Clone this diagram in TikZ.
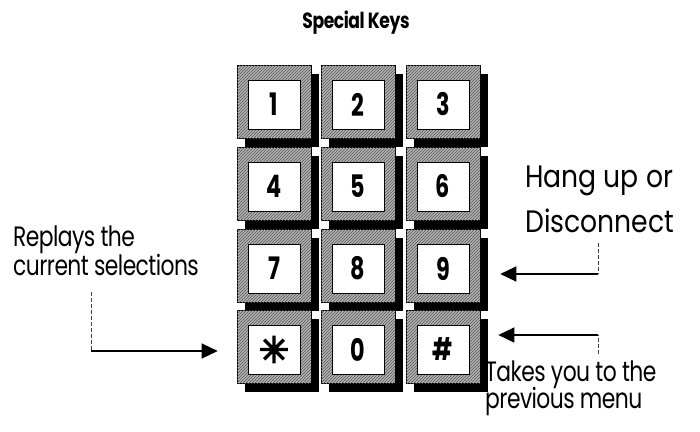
\documentclass[tikz,border=0pt]{standalone}
\usepackage{fontspec}
\setmainfont{Poppins}
\newfontfamily\labelfont[FakeStretch=0.78, LetterSpace=-2]{Poppins}
\newfontfamily\bigfont[FakeStretch=0.86]{Poppins}
\newfontfamily\keyfont[FakeStretch=0.72]{Poppins}
\newfontfamily\symfont[FakeBold=4]{DejaVu Sans}
\usetikzlibrary{shadows,arrows.meta,patterns}

\tikzset{
  keyframe/.style={rectangle, draw=black, line width=0.6pt, fill=black!30,
    postaction={pattern=north east lines, pattern color=black!65},
    minimum width=74pt, minimum height=73pt, inner sep=0pt,
    drop shadow={shadow xshift=8pt, shadow yshift=-9pt, fill=black, opacity=1}},
  keyface/.style={rectangle, draw=black, line width=0.6pt, fill=white,
    minimum width=52pt, minimum height=49pt, inner sep=0pt,
    font=\keyfont\bfseries\fontsize{31}{31}\selectfont},
  caption/.style={anchor=base west, inner sep=0pt,
    font=\labelfont\fontsize{28}{29}\selectfont},
  bigcaption/.style={anchor=base west, inner sep=0pt,
    font=\bigfont\fontsize{31}{33}\selectfont},
  pointer/.style={line width=1.4pt, -{Triangle[length=16pt,width=15pt]}},
  leader/.style={line width=0.8pt, black!75, dash pattern=on 4pt off 2pt},
}

\begin{document}
\begin{tikzpicture}[x=1pt, y=-1pt]
\useasboundingbox (0,0) rectangle (700,431);

% title
\node[anchor=base, inner sep=0pt,
  font={\labelfont\bfseries\fontsize{22}{22}\selectfont}] (title) at (356,28) {Special Keys};

% keypad: frame node plus white key face
\foreach \lab/\nm/\cx/\cy in {
    1/k1/274/101.5, 2/k2/358/101.5, 3/k3/443/101.5,
    4/k4/274/183.5, 5/k5/358/183.5, 6/k6/443/183.5,
    7/k7/274/265.5, 8/k8/358/265.5, 9/k9/443/265.5,
    {\symfont\fontsize{36}{36}\selectfont ✳}/kstar/274/346.5,
    0/k0/358/346.5, \#/khash/443/346.5} {
  \node[keyframe] (\nm) at (\cx,\cy) {};
  \node[keyface] (\nm face) at (\cx,\cy+3) {\lab};
}

% left label and arrow to the star key
\node[caption] (replay1) at (13,246) {Replays the};
\node[caption] (replay2) at (13,275) {current selections};
\coordinate (r1) at (91,292);
\coordinate (r2) at (91,351);
\draw[leader] (r1) -- (r2);
\draw[pointer] (r2) -- ([xshift=-19pt]r2 -| kstar.west);

% right label and arrow to the 9 key
\node[bigcaption] (hang1) at (525,187) {Hang up or};
\node[bigcaption] (hang2) at (525,232) {Disconnect};
\coordinate (h1) at (598,243);
\coordinate (h2) at (598,274);
\draw[leader] (h1) -- (h2);
\draw[pointer] (h2) -- ([xshift=20pt]h2 -| k9.east);

% right label and arrow to the hash key
\node[caption] (prev1) at (485,381) {Takes you to the};
\node[caption] (prev2) at (485,408) {previous menu};
\coordinate (p1) at (598,354);
\coordinate (p2) at (598,335);
\draw[leader] (p1) -- (p2);
\draw[pointer] (p2) -- ([xshift=18pt]p2 -| khash.east);
\end{tikzpicture}
\end{document}
